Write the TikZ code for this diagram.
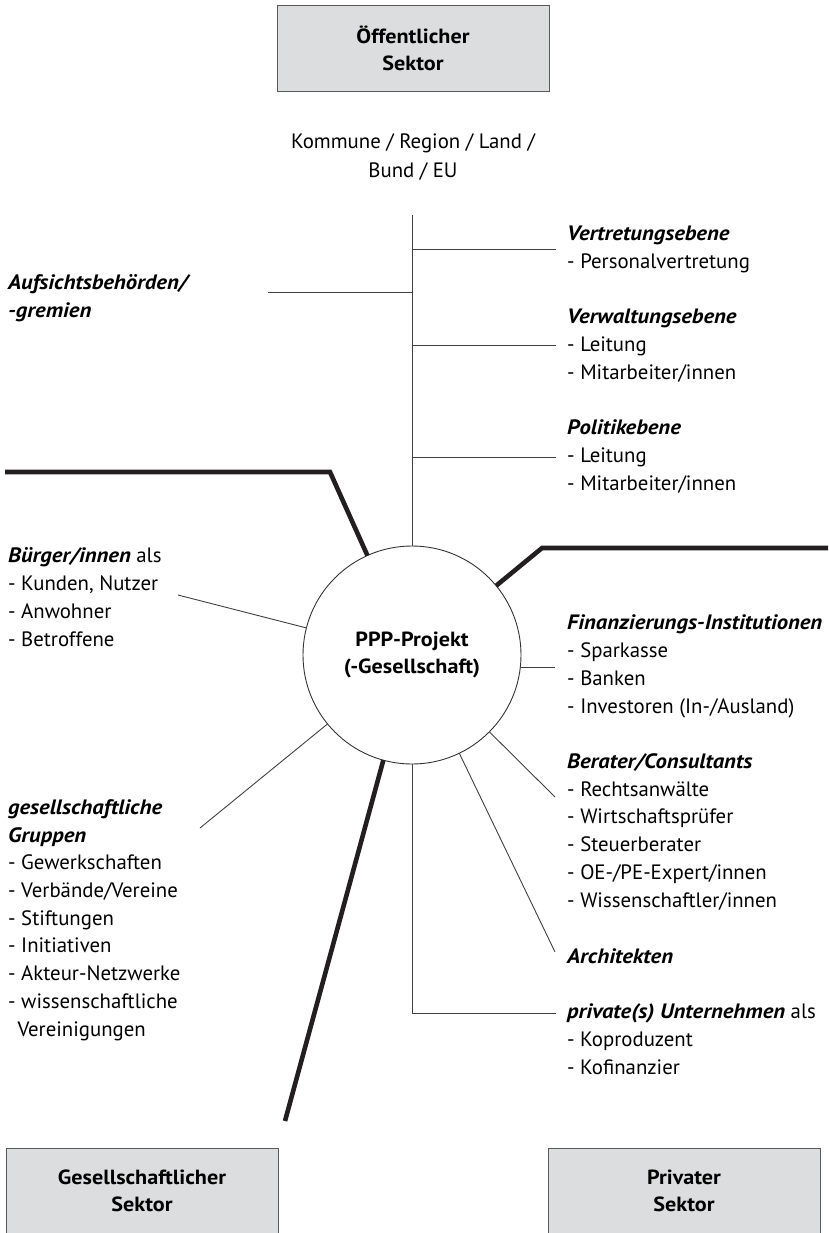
\documentclass[tikz,border=0pt]{standalone}
\usepackage{fontspec}
\setmainfont{PT Sans}[BoldFeatures={FakeStretch=1.08},BoldItalicFeatures={FakeStretch=1.09}]
\usepackage{xcolor}
\definecolor{boxgray}{HTML}{DCDDDE}
\definecolor{inkblack}{HTML}{231F20}
\newcommand{\Rad}{218}
\newcommand{\Skip}{27.7}
\newcommand{\grp}[1]{\textbf{\textit{#1}}}

\begin{document}
\begin{tikzpicture}[x=1pt,y=-1pt,
	thinline/.style={draw=black!75,line width=0.9pt},
	thickline/.style={draw=inkblack,line width=4.6pt},
	sectorbox/.style={draw=black!65,fill=boxgray,line width=0.9pt,minimum width=272pt,minimum height=86pt,
		align=center,inner sep=0pt,font=\fontsize{20.5}{27}\selectfont\bfseries},
	grouptext/.style={align=left,anchor=base west,inner sep=0pt,font=\fontsize{20.8}{\Skip}\selectfont}]
		\useasboundingbox (0,0) rectangle (828,1233);

		\node[sectorbox] (oeff) at (413,48) {Öffentlicher\\Sektor};
		\node[sectorbox] (gesell) at (142,1191) {Gesellschaftlicher\\Sektor};
		\node[sectorbox] (priv) at (684,1191) {Privater\\Sektor};
		\node[align=center,inner sep=0pt,font=\fontsize{20.8}{29}\selectfont] (ebenen) at (413,157) {Kommune / Region / Land /\\Bund / EU};

		\node[circle,draw=black!80,line width=0.9pt,minimum size=\Rad pt,inner sep=0pt,outer sep=0pt,
			align=center,font=\fontsize{20.5}{27}\selectfont\bfseries] (ppp) at (412,655) {PPP-Projekt\\(-Gesellschaft)};

		\coordinate (stem) at (412,215);
		\coordinate (vtr) at (556,249);
		\coordinate (aufs) at (268,292);
		\coordinate (vwl) at (556,345);
		\coordinate (pol) at (556,457);
		\coordinate (buerg) at (178,595);
		\coordinate (grp) at (200,828);
		\coordinate (fin) at (555,667);
		\coordinate (ber) at (555,797);
		\coordinate (arch) at (555,952);
		\coordinate (unt) at (556,1013);
		\coordinate (LA) at (5,472);
		\coordinate (LB) at (330,472);
		\coordinate (RA) at (828,548);
		\coordinate (RB) at (542,548);
		\coordinate (U) at (285,1121);

		\draw[thinline] (stem) -- (ppp.north);% public axis
		\draw[thinline] (vtr) -- (vtr -| stem);
		\draw[thinline] (aufs) -- (aufs -| stem);
		\draw[thinline] (vwl) -- (vwl -| stem);
		\draw[thinline] (pol) -- (pol -| stem);
		\draw[thinline] (buerg) -- (ppp);
		\draw[thinline] (grp) -- (ppp);
		\draw[thinline] (fin) -- (fin -| ppp.east);
		\draw[thinline] (ber) -- (ppp);
		\draw[thinline] (arch) -- (ppp);
		\draw[thinline] (ppp.south) -- (ppp.south |- unt) -- (unt);% private axis

		\draw[thickline] (LA) -- (LB) -- (ppp);% border public/society
		\draw[thickline] (RA) -- (RB) -- (ppp);% border public/private
		\draw[thickline] (U) -- (ppp);% border society/private

		% base = baseline of last line
		\node[grouptext] (vtrtext) at (567,268) {\grp{Vertretungsebene}\\- Personalvertretung};
		\node[grouptext] (vwltext) at (567,379) {\grp{Verwaltungsebene}\\- Leitung\\- Mitarbeiter/innen};
		\node[grouptext] (poltext) at (567,490) {\grp{Politikebene}\\- Leitung\\- Mitarbeiter/innen};
		\node[grouptext] (fintext) at (567,713) {\grp{Finanzierungs-Institutionen}\\- Sparkasse\\- Banken\\- Investoren (In-/Ausland)};
		\node[grouptext] (bertext) at (567,907) {\grp{Berater/Consultants}\\- Rechtsanwälte\\- Wirtschaftsprüfer\\- Steuerberater\\- OE-/PE-Expert/innen\\- Wissenschaftler/innen};
		\node[grouptext] (archtext) at (567,963) {\grp{Architekten}};
		\node[grouptext] (unttext) at (567,1074) {\grp{private(s) Unternehmen} als\\- Koproduzent\\- Kofinanzier};
		\node[grouptext] (aufstext) at (8,317) {\grp{Aufsichtsbehörden/}\\\grp{-gremien}};
		\node[grouptext] (buergtext) at (8,646) {\grp{Bürger/innen} als\\- Kunden, Nutzer\\- Anwohner\\- Betroffene};
		\node[grouptext] (grptext) at (8,1036) {\grp{gesellschaftliche}\\\grp{Gruppen}\\- Gewerkschaften\\- Verbände/Vereine\\- Stiftungen\\- Initiativen\\- Akteur-Netzwerke\\- wissenschaftliche\\\hspace*{0.45em}Vereinigungen};
	\end{tikzpicture}
\end{document}
